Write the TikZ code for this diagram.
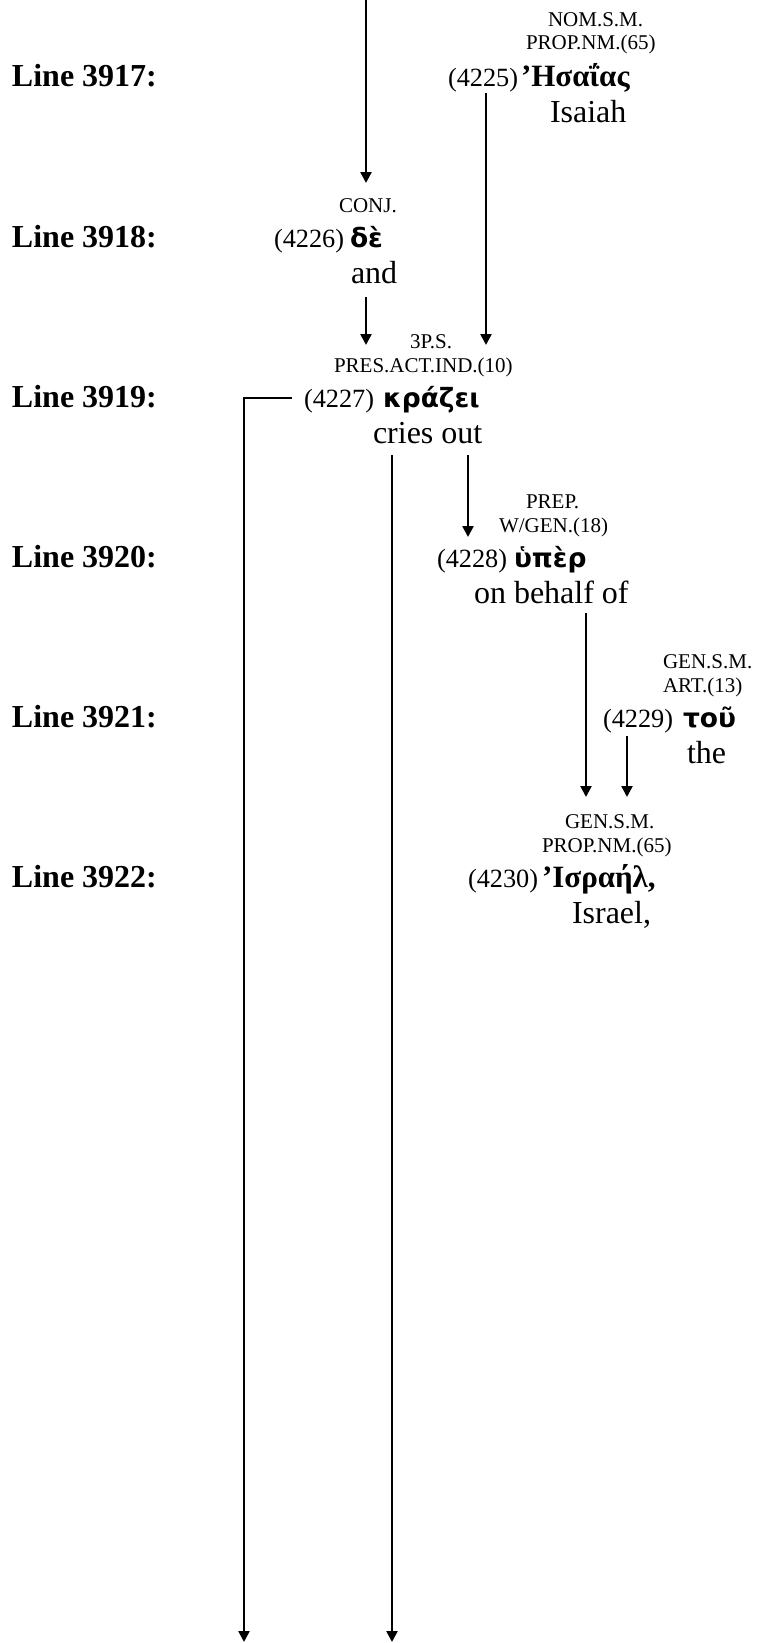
\documentclass[tikz,border=0pt]{standalone}
\usepackage{fontspec}
\setmainfont{Liberation Serif}
\newfontfamily\grsans{DejaVu Sans}
\usetikzlibrary{arrows.meta}
\tikzset{
  bw/.style={inner sep=0pt, outer sep=0pt, anchor=base west},
  lab/.style={bw, font=\fontsize{32}{36}\selectfont\bfseries},
  tag/.style={bw, font=\fontsize{21}{24}\selectfont},
  num/.style={bw, font=\fontsize{26.3}{30}\selectfont},
  gk/.style={bw, font=\fontsize{26.5}{30}\selectfont\grsans\bfseries},
  gks/.style={bw, font=\fontsize{31}{34}\selectfont\bfseries},
  gl/.style={bw, font=\fontsize{32}{36}\selectfont},
  arr/.style={line width=2.4pt, -{Triangle[width=11pt,length=11pt]}},
}
\begin{document}
\begin{tikzpicture}[x=1pt,y=-1pt]
\useasboundingbox (0,0) rectangle (756,1643);
% line labels
\node[lab] (L1) at (12,87) {Line 3917:};
\node[lab] (L2) at (12,247) {Line 3918:};
\node[lab] (L3) at (12,407) {Line 3919:};
\node[lab] (L4) at (12,567) {Line 3920:};
\node[lab] (L5) at (12,727) {Line 3921:};
\node[lab] (L6) at (12,887) {Line 3922:};
% 4225
\node[tag] (t4225a) at (548,27) {NOM.S.M.};
\node[tag] (t4225b) at (526,50) {PROP.NM.(65)};
\node[num] (n4225) at (448,87) {(4225)};
\node[gks] (g4225) at (521,87) {’Ησαΐας};
\node[gl] (e4225) at (550,123) {Isaiah};
% 4226
\node[tag] (t4226a) at (339,212) {CONJ.};
\node[num] (n4226) at (274,247) {(4226)};
\node[gk] (g4226) at (350,247) {δὲ};
\node[gl] (e4226) at (351,283) {and};
% 4227
\node[tag] (t4227a) at (410,348) {3P.S.};
\node[tag] (t4227b) at (334,372) {PRES.ACT.IND.(10)};
\node[num] (n4227) at (304,407) {(4227)};
\node[gk] (g4227) at (383,407) {κράζει};
\node[gl] (e4227) at (373,443) {cries out};
% 4228
\node[tag] (t4228a) at (526,508) {PREP.};
\node[tag] (t4228b) at (499,532) {W/GEN.(18)};
\node[num] (n4228) at (437,567) {(4228)};
\node[gk] (g4228) at (514,567) {ὑπὲρ};
\node[gl] (e4228) at (474,603) {on behalf of};
% 4229
\node[tag] (t4229a) at (663,668) {GEN.S.M.};
\node[tag] (t4229b) at (663,692) {ART.(13)};
\node[num] (n4229) at (603,727) {(4229)};
\node[gk] (g4229) at (683,727) {τοῦ};
\node[gl] (e4229) at (687,763) {the};
% 4230
\node[tag] (t4230a) at (565,828) {GEN.S.M.};
\node[tag] (t4230b) at (542,852) {PROP.NM.(65)};
\node[num] (n4230) at (468,887) {(4230)};
\node[gks] (g4230) at (542,887) {’Ισραήλ,};
\node[gl] (e4230) at (572,923) {Israel,};
% connector end points
\coordinate (a1s) at (366,0);    \coordinate (a1e) at (366,183);
\coordinate (a2s) at (486,93);   \coordinate (a2e) at (486,345);
\coordinate (a3s) at (366,297);  \coordinate (a3e) at (366,345);
\coordinate (a4s) at (292,398);  \coordinate (a4c) at (244,398); \coordinate (a4e) at (244,1642);
\coordinate (a5s) at (392,455);  \coordinate (a5e) at (392,1642);
\coordinate (a6s) at (468,455);  \coordinate (a6e) at (468,537);
\coordinate (a7s) at (586,613);  \coordinate (a7e) at (586,797);
\coordinate (a8s) at (627,736);  \coordinate (a8e) at (627,797);
\draw[arr] (a1s) -- (a1e);
\draw[arr] (a2s) -- (a2e);
\draw[arr] (a3s) -- (a3e);
\draw[arr] (a4s) -- (a4c) -- (a4e);
\draw[arr] (a5s) -- (a5e);
\draw[arr] (a6s) -- (a6e);
\draw[arr] (a7s) -- (a7e);
\draw[arr] (a8s) -- (a8e);
\end{tikzpicture}
\end{document}
